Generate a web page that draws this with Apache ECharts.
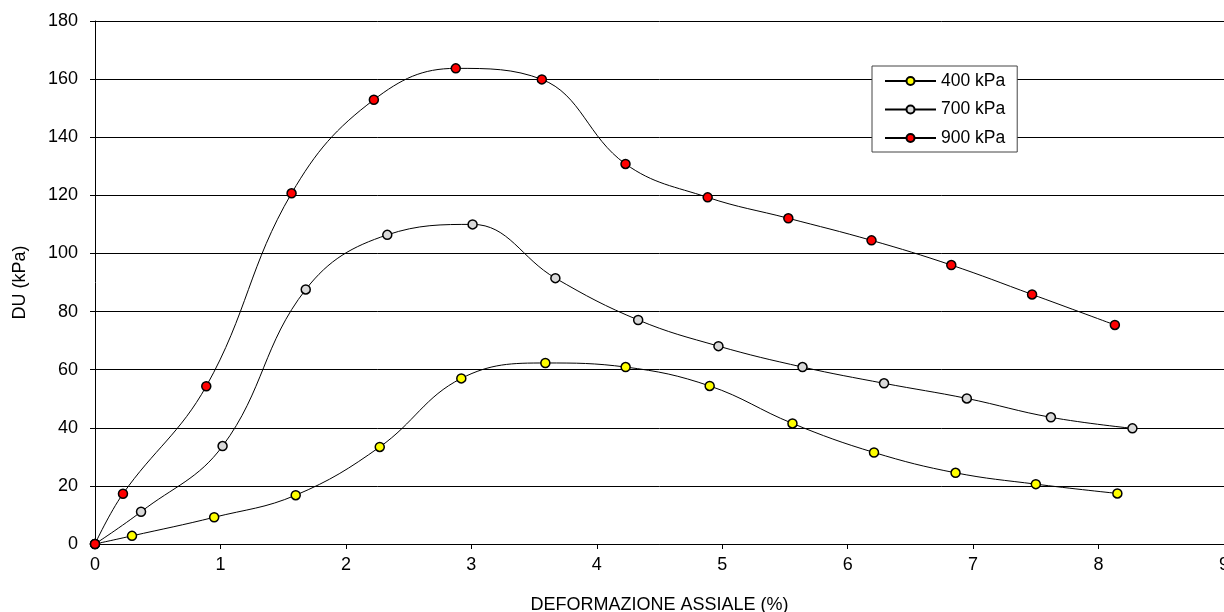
<!DOCTYPE html>
<html>
<head>
<meta charset="utf-8">
<script src="https://cdn.jsdelivr.net/npm/echarts@6/dist/echarts.min.js"></script>
<style>
html,body{margin:0;padding:0;background:#fff;}
#c{width:1224px;height:612px;}
</style>
</head>
<body>
<div id="c"></div>
<script>
var seriesNames = ['400 kPa', '700 kPa', '900 kPa'];
var x400 = [0, 0.295, 0.95, 1.60, 2.27, 2.92, 3.59, 4.23, 4.90, 5.56, 6.21, 6.86, 7.50, 8.15];
var y400 = [0, 2.8, 9.2, 16.8, 33.4, 57.0, 62.3, 60.9, 54.4, 41.5, 31.5, 24.5, 20.6, 17.4];
var x700 = [0, 0.367, 1.017, 1.68, 2.33, 3.01, 3.67, 4.33, 4.97, 5.64, 6.29, 6.95, 7.62, 8.27];
var y700 = [0, 11.1, 33.7, 87.6, 106.4, 110.0, 91.5, 77.1, 68.1, 60.9, 55.3, 50.1, 43.6, 39.8];
var x900 = [0, 0.223, 0.887, 1.567, 2.223, 2.876, 3.562, 4.229, 4.884, 5.527, 6.19, 6.826, 7.47, 8.13];
var y900 = [0, 17.3, 54.3, 120.7, 152.9, 163.7, 159.9, 130.8, 119.3, 112.1, 104.5, 96.0, 85.9, 75.4];
var xTicks = [0, 1, 2, 3, 4, 5, 6, 7, 8, 9];
var yTicks = [0, 20, 40, 60, 80, 100, 120, 140, 160, 180];

function zip(xs, ys) { return xs.map(function (x, i) { return [x, ys[i]]; }); }
var fills = ['#ffff00', '#d9d9d9', '#ff0000'];
var datasets = [zip(x400, y400), zip(x700, y700), zip(x900, y900)];

var FONT = 'Liberation Sans, Arial, sans-serif';
var chart = echarts.init(document.getElementById('c'), null, {renderer: 'canvas'});
chart.setOption({
  animation: false,
  backgroundColor: '#ffffff',
  textStyle: {fontFamily: FONT, color: '#000'},
  grid: {left: 95, right: 0, top: 21, bottom: 68, containLabel: false, outerBoundsMode: 'none'},
  legend: {
    orient: 'vertical',
    left: 872, top: 66,
    padding: [6, 12, 5, 12],
    itemGap: 10.5,
    itemWidth: 51, itemHeight: 10,
    backgroundColor: '#fff',
    borderColor: '#444', borderWidth: 1,
    textStyle: {fontFamily: FONT, fontSize: 17.5, color: '#000'},
    data: seriesNames
  },
  xAxis: {
    type: 'value', min: xTicks[0], max: xTicks[xTicks.length - 1], interval: 1,
    name: 'DEFORMAZIONE ASSIALE (%)', nameLocation: 'middle', nameGap: 52,
    nameTextStyle: {fontFamily: FONT, fontSize: 18, color: '#000'},
    axisLine: {show: true, onZero: false, lineStyle: {color: '#000', width: 1}},
    axisTick: {show: true, length: 5, lineStyle: {color: '#000'}},
    axisLabel: {fontFamily: FONT, fontSize: 18, color: '#000', margin: 12, showMaxLabel: true},
    splitLine: {show: false}
  },
  yAxis: {
    type: 'value', min: yTicks[0], max: yTicks[yTicks.length - 1], interval: 20,
    name: 'DU (kPa)', nameLocation: 'middle', nameGap: 66, nameRotate: 90,
    nameTextStyle: {fontFamily: FONT, fontSize: 18, color: '#000'},
    axisLine: {show: true, lineStyle: {color: '#000', width: 1}},
    axisTick: {show: true, length: 5, lineStyle: {color: '#000'}},
    axisLabel: {fontFamily: FONT, fontSize: 18, color: '#000', margin: 17},
    splitLine: {show: true, lineStyle: {color: '#000', width: 1}}
  },
  series: datasets.map(function (d, i) {
    return {
      name: seriesNames[i], type: 'line', data: d, smooth: 0.4,
      symbol: 'circle', symbolSize: 9,
      lineStyle: {color: '#000', width: 1},
      itemStyle: {color: fills[i], borderColor: '#000', borderWidth: 1.5},
      z: 3 + i
    };
  })
});
</script>
</body>
</html>
